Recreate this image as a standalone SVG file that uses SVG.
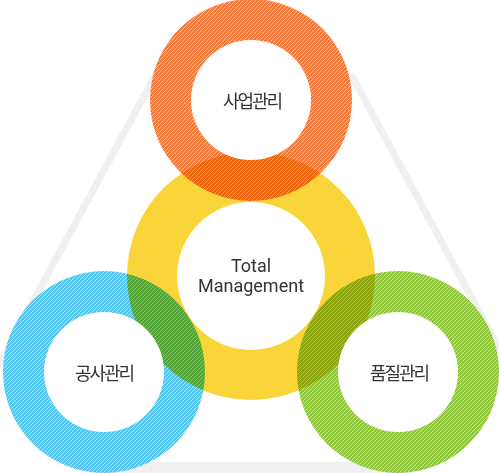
<svg xmlns="http://www.w3.org/2000/svg" width="499" height="473" viewBox="0 0 499 473">
<style>
.edge{stroke:#f0f0f0;stroke-width:7;fill:none}
.band{fill:#f0f0f0}
.cover{fill:#ffffff}
.ring{mix-blend-mode:multiply}
.hole{fill:#ffffff}
.ko{font-family:"Noto Sans CJK KR","Noto Sans",sans-serif;font-size:18px;fill:#333333;text-anchor:middle;letter-spacing:-2px}
.en{font-family:Roboto,"Noto Sans",sans-serif;font-size:18px;fill:#333333;text-anchor:middle}
.hatch{stroke:#ffffff;stroke-opacity:0.5;stroke-width:1}
</style>
<defs>
<pattern id="pOrange" patternUnits="userSpaceOnUse" width="4" height="4">
<rect width="4" height="4" fill="#f37a3b"/>
<path class="hatch" d="M-1,1 L1,-1 M0,4 L4,0 M3,5 L5,3"/>
</pattern>
<pattern id="pBlue" patternUnits="userSpaceOnUse" width="4" height="4">
<rect width="4" height="4" fill="#55c6ef"/>
<path class="hatch" d="M-1,1 L1,-1 M0,4 L4,0 M3,5 L5,3"/>
</pattern>
<pattern id="pGreen" patternUnits="userSpaceOnUse" width="4" height="4">
<rect width="4" height="4" fill="#8fc63c"/>
<path class="hatch" d="M-1,1 L1,-1 M0,4 L4,0 M3,5 L5,3"/>
</pattern>
</defs>
<rect width="499" height="473" fill="#ffffff"/>
<g id="connectors">
<line class="edge" x1="159.1" y1="68" x2="-59.6" y2="473"/>
<line class="edge" x1="350.8" y1="74" x2="566.3" y2="473"/>
<rect class="band" x="100" y="462" width="300" height="11"/>
</g>
<g id="covers">
<circle class="cover" cx="251" cy="100" r="101"/>
<circle class="cover" cx="104" cy="372" r="101"/>
<circle class="cover" cx="398" cy="372" r="101"/>
</g>
<g id="total-management">
<circle class="ring" cx="251" cy="276" r="124" fill="#f9d53a"/>
</g>
<g id="business-ring">
<circle class="ring" cx="251" cy="100" r="101" fill="url(#pOrange)"/>
</g>
<g id="construction-ring">
<circle class="ring" cx="104" cy="372" r="101" fill="url(#pBlue)"/>
</g>
<g id="quality-ring">
<circle class="ring" cx="398" cy="372" r="101" fill="url(#pGreen)"/>
</g>
<g id="holes">
<circle class="hole" cx="251" cy="276" r="74"/>
<circle class="hole" cx="251" cy="100" r="60"/>
<circle class="hole" cx="104" cy="372" r="60"/>
<circle class="hole" cx="398" cy="372" r="60"/>
</g>
<g id="labels">
<text class="ko" x="252" y="108">사업관리</text>
<text class="en" x="251" y="272">Total</text>
<text class="en" x="251" y="292">Management</text>
<text class="ko" x="104" y="380">공사관리</text>
<text class="ko" x="399" y="380">품질관리</text>
</g>
</svg>
